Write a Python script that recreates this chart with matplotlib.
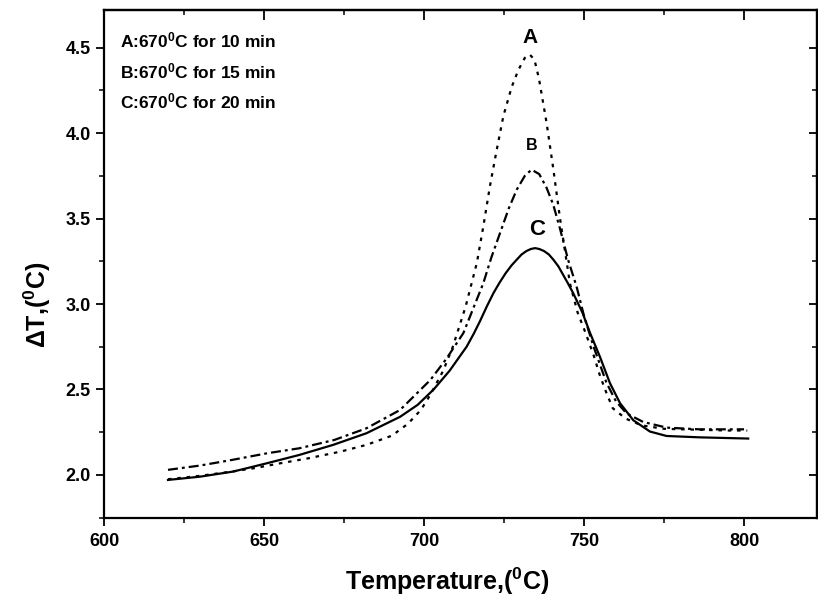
import matplotlib
matplotlib.use("Agg")
import matplotlib.pyplot as plt
from matplotlib.ticker import MultipleLocator

plt.rcParams['font.family'] = ['Liberation Sans', 'DejaVu Sans']
plt.rcParams['font.weight'] = 'bold'
plt.rcParams['mathtext.fontset'] = 'custom'
plt.rcParams['mathtext.rm'] = 'Liberation Sans:bold'
plt.rcParams['mathtext.it'] = 'Liberation Sans:bold'
plt.rcParams['mathtext.bf'] = 'Liberation Sans:bold'

# Curve A: 670 C for 10 min (dotted)
temp_a = [620, 630, 640, 647, 655, 664, 674, 682, 690, 695, 699, 702, 706, 709,
          713, 716.5, 718.5, 720.6, 722.7, 724.8, 727.4, 729.5, 731.5, 733, 734.5,
          735.9, 738.3, 740.4, 742.5, 745.6, 748, 750.5, 753, 755, 757, 759, 763,
          768, 775, 785, 795, 801]
dt_a = [1.975, 1.995, 2.02, 2.04, 2.068, 2.098, 2.137, 2.176, 2.23, 2.30, 2.38,
        2.47, 2.61, 2.75, 2.985, 3.24, 3.45, 3.69, 3.90, 4.10, 4.27, 4.37, 4.44, 4.46,
        4.43, 4.32, 4.06, 3.79, 3.50, 3.12, 2.95, 2.83, 2.70, 2.58, 2.48, 2.39, 2.33,
        2.29, 2.27, 2.265, 2.26, 2.26]

# Curve B: 670 C for 15 min (dash-dot)
temp_b = [620, 630, 640, 651, 661, 672, 682, 692.5, 702, 707, 712.3, 715.5, 718.5,
          721, 723.75, 726.5, 729, 731.5, 733.6, 736, 738.3, 740.4, 742.5, 745,
          747.7, 750, 753, 757, 760, 763.3, 768.5, 775.8, 786, 800]
dt_b = [2.03, 2.055, 2.088, 2.127, 2.156, 2.205, 2.273, 2.38, 2.556, 2.68, 2.83,
        2.98, 3.12, 3.27, 3.415, 3.56, 3.67, 3.75, 3.786, 3.76, 3.68, 3.58, 3.44,
        3.26, 3.10, 2.93, 2.75, 2.54, 2.43, 2.36, 2.31, 2.277, 2.267, 2.267]

# Curve C: 670 C for 20 min (solid)
temp_c = [620, 630, 640.4, 650.8, 661, 671.6, 682, 692.5, 698, 703, 708, 713.3,
          715.5, 717.5, 719.6, 721.7, 723.6, 725.5, 727.3, 729, 730.5, 732, 733.4,
          734.7, 736, 737.5, 739, 740.4, 742, 743.5, 745, 746.6, 749.5, 751.9,
          755, 758.1, 761.25, 765.4, 770.6, 775.8, 786.25, 801.3]
dt_c = [1.971, 1.99, 2.02, 2.068, 2.117, 2.176, 2.244, 2.34, 2.41, 2.50, 2.61, 2.75,
        2.825, 2.90, 2.985, 3.064, 3.125, 3.18, 3.225, 3.26, 3.29, 3.31, 3.322,
        3.327, 3.322, 3.31, 3.29, 3.26, 3.22, 3.17, 3.12, 3.064, 2.95, 2.83,
        2.69, 2.537, 2.42, 2.32, 2.254, 2.228, 2.22, 2.213]

legend_lines = ["A:670$^{0}$C for 10 min",
                "B:670$^{0}$C for 15 min",
                "C:670$^{0}$C for 20 min"]
x_ticks = [600, 650, 700, 750, 800]
y_ticks = [2.0, 2.5, 3.0, 3.5, 4.0, 4.5]

fig = plt.figure(figsize=(8.18, 5.99), dpi=100)
ax = fig.add_axes([104/818, (599-517.7)/599, (817-104)/818, (517.7-10)/599])

ax.plot(temp_a, dt_a, color='black', lw=1.6, linestyle=(0, (1.6, 2.6)))
ax.plot(temp_b, dt_b, color='black', lw=1.6, linestyle=(0, (4.5, 1.8, 1.3, 1.8)))
ax.plot(temp_c, dt_c, color='black', lw=1.6, linestyle='-')

ax.set_xlim(600, 822.8)
ax.set_ylim(1.75, 4.72)

for s in ax.spines.values():
    s.set_linewidth(1.6)

ax.set_xticks(x_ticks)
ax.set_yticks(y_ticks)
ax.set_yticklabels([f"{v:.1f}" for v in y_ticks])
ax.xaxis.set_minor_locator(MultipleLocator(25))
ax.yaxis.set_minor_locator(MultipleLocator(0.25))
ax.tick_params(which='major', direction='out', length=6, width=1.3, labelsize=13)
ax.tick_params(axis='x', which='major', pad=5)
ax.tick_params(which='minor', direction='out', length=3.5, width=1.1)

secx = ax.secondary_xaxis('top')
secx.set_xticks(x_ticks)
secx.xaxis.set_minor_locator(MultipleLocator(25))
secx.tick_params(which='major', direction='in', length=7, width=1.3, labeltop=False)
secx.tick_params(which='minor', direction='in', length=3.5, width=1.1)
secx.spines['top'].set_linewidth(1.6)

secy = ax.secondary_yaxis('right')
secy.set_yticks(y_ticks)
secy.yaxis.set_minor_locator(MultipleLocator(0.25))
secy.tick_params(which='major', direction='in', length=6, width=1.3, labelright=False)
secy.tick_params(which='minor', direction='in', length=3.5, width=1.1)
secy.spines['right'].set_linewidth(1.6)

ax.set_xlabel("Temperature,($^{0}$C)", fontsize=18, fontweight='bold')
ax.set_ylabel("ΔT,($^{0}$C)", fontsize=18, fontweight='bold')
ax.xaxis.set_label_coords(0.482, -0.095)
ax.yaxis.set_label_coords(-0.072, 0.42)

for i, t in enumerate(legend_lines):
    ax.text(605, 4.54 - i * 0.178, t, fontsize=12.5, fontweight='bold', va='center', ha='left')

ax.text(733, 4.56, "A", fontsize=15, fontweight='bold', ha='center', va='center')
ax.text(733.7, 3.93, "B", fontsize=11.5, fontweight='bold', ha='center', va='center')
ax.text(735.2, 3.434, "C", fontsize=16, fontweight='bold', ha='center', va='center')

fig.savefig("out.png", dpi=100)
